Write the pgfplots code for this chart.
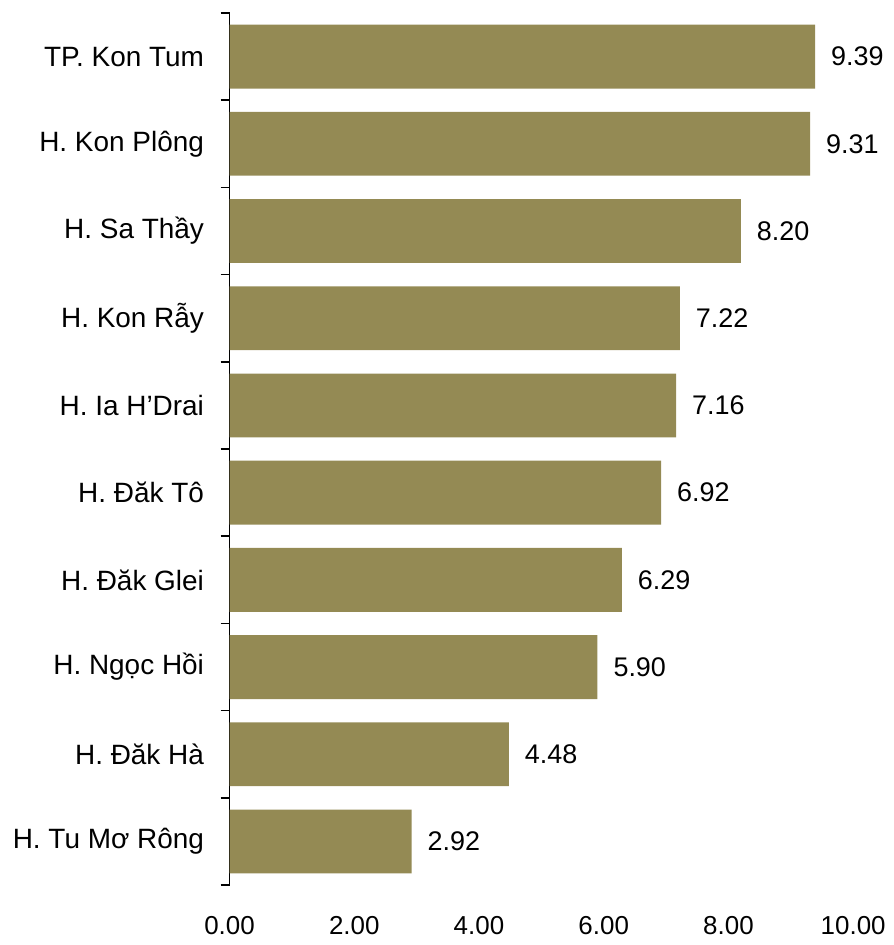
\documentclass[border=0pt]{standalone}
\usepackage{pgfplots}
\pgfplotsset{compat=1.18}
\usepackage{fontspec}
\setmainfont{Liberation Sans}
\definecolor{barcol}{HTML}{948A54}
\begin{document}
\begin{tikzpicture}
\begin{axis}[
  scale only axis,
  width=312.5pt, height=437pt,
  xbar, bar width=32pt,
  xmin=0, xmax=10,
  ymin=-0.5, ymax=9.5,
  font=\fontsize{14}{16.8}\selectfont,
  /pgf/number format/assume math mode=true,
  xtick={0,2,...,10},
  xticklabel={\pgfmathprintnumber[fixed,precision=2,fixed zerofill]{\tick}},
  x axis line style={draw=none},
  xtick style={draw=none},
  xticklabel style={yshift=-10pt, inner sep=1pt, font=\fontsize{13}{15.6}\selectfont},
  axis y line*=left,
  axis x line*=bottom,
  ytick={0,...,9},
  yticklabels={H. Tu Mơ Rông,H. Đăk Hà,H. Ngọc Hồi,H. Đăk Glei,H. Đăk Tô,H. Ia H’Drai,H. Kon Rẫy,H. Sa Thầy,H. Kon Plông,TP. Kon Tum},
  major y tick style={draw=none},
  minor ytick={-0.5,0.5,...,9.5},
  minor tick length=4.5pt,
  tick align=outside,
  yticklabel style={xshift=-5pt},
  y axis line style={line width=0.8pt},
  minor y tick style={line width=0.8pt, black},
  nodes near coords,
  nodes near coords style={anchor=west, xshift=4.5pt, font=\fontsize{13.5}{16}\selectfont},
  point meta=explicit symbolic,
  clip=false,
]
\addplot[fill=barcol, draw=none] coordinates {
  (2.92,0) [2.92]
  (4.48,1) [4.48]
  (5.90,2) [5.90]
  (6.29,3) [6.29]
  (6.92,4) [6.92]
  (7.16,5) [7.16]
  (7.22,6) [7.22]
  (8.20,7) [8.20]
  (9.31,8) [9.31]
  (9.39,9) [9.39]
};
\end{axis}
\pgfresetboundingbox
\path[use as bounding box] (-115pt,-30pt) rectangle (332.5pt,443.5pt);
\end{tikzpicture}
\end{document}
